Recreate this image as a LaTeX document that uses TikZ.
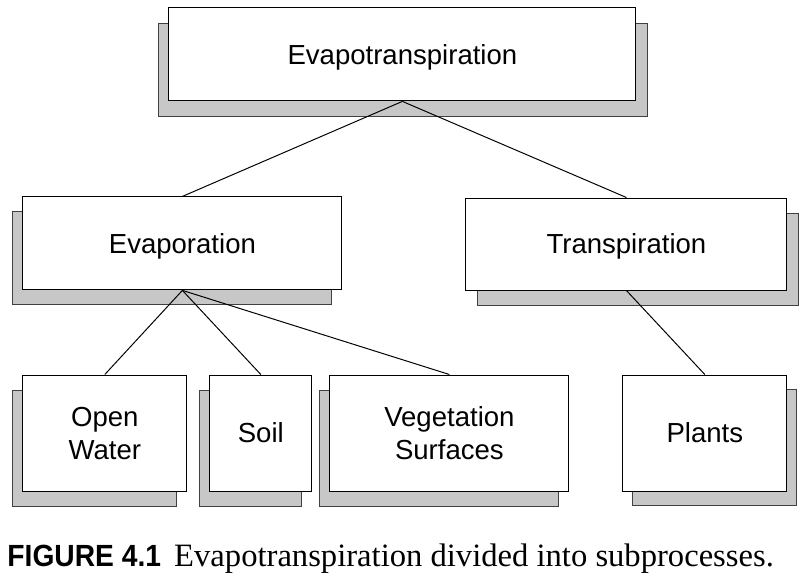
\documentclass[tikz,border=0pt]{standalone}
\usepackage{fontspec}
\setmainfont{Liberation Serif}
\newfontfamily\boxfont{Liberation Sans}
\newfontfamily\figfont[FakeStretch=0.92]{Liberation Sans Bold}
\usepackage{tikz}
\usetikzlibrary{shapes,positioning,shadows,backgrounds}

\begin{document}
\begin{tikzpicture}[node distance=4.725cm, auto, line width=0.7pt,
  proc/.style={draw, rectangle, fill=white, inner sep=0pt, align=center, text depth=0pt,
    font=\boxfont\fontsize{19.6}{23.5}\selectfont, minimum height=2.325cm},
  leaf/.style={proc, minimum height=2.9cm},
  shadl/.style={general shadow={fill=black!22, draw=black!75, shadow xshift=-0.26cm, shadow yshift=-0.375cm}},
  shadr/.style={general shadow={fill=black!22, draw=black!75, shadow xshift=0.3cm, shadow yshift=-0.375cm}}]
\useasboundingbox (0,0) rectangle (20.3,-14.475);

% Top box
\node[proc, minimum width=11.675cm] (et) at (10.06,-1.36) {Evapotranspiration};
\begin{scope}[on background layer]
\draw[fill=black!22, draw=black!75] ([xshift=-0.25cm, yshift=-0.4cm]et.north west) rectangle ([xshift=0.26cm, yshift=-0.38cm]et.south east);
\end{scope}

% Two subprocesses
\node[proc, shadl, below of=et, xshift=-5.5cm, minimum width=7.975cm] (evap) {Evaporation};
\node[proc, shadr, below of=et, node distance=4.74cm, xshift=5.6cm, minimum width=8.025cm, minimum height=2.3cm] (transp) {Transpiration};

% Surfaces
\node[leaf, shadl, below of=evap, node distance=4.74cm, xshift=-1.94cm, minimum width=4.1cm] (openw) {Open\\Water};
\node[leaf, shadl, below of=evap, node distance=4.74cm, xshift=1.96cm, minimum width=2.55cm] (soil) {Soil};
\node[leaf, shadl, below of=evap, node distance=4.74cm, xshift=6.675cm, minimum width=5.975cm] (veg) {Vegetation\\Surfaces};
\node[leaf, general shadow={fill=black!22, draw=black!75, shadow xshift=0.24cm, shadow yshift=-0.36cm},
  below of=transp, xshift=1.96cm, minimum width=4.1cm] (plants) {Plants};

% Caption
\node[anchor=base west, inner sep=0pt] (cap) at (0.175,-14.17)
  {{\figfont\fontsize{21.8}{26}\selectfont FIGURE 4.1}\hspace{0.33cm}{\fontsize{23.2}{27}\selectfont Evapotranspiration divided into subprocesses.}};

% Lines
\draw (et.south) -- (evap.north);
\draw (et.south) -- (transp.north);
\draw (evap.south) -- (openw.north);
\draw (evap.south) -- (soil.north);
\draw (evap.south) -- (veg.north);
\draw (transp.south) -- (plants.north);
\end{tikzpicture}
\end{document}
